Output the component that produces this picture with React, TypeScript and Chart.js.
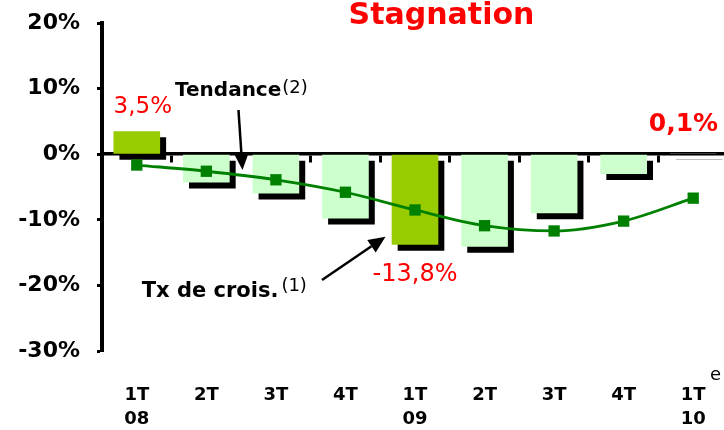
import React, { useEffect, useRef } from "react";
import { Chart, registerables } from "chart.js";

Chart.register(...registerables);

// ---- data ----
const categories: string[][] = [
  ["1T", "08"], ["2T"], ["3T"], ["4T"], ["1T", "09"], ["2T"], ["3T"], ["4T"], ["1T", "10"],
];
const growthRate = [3.5, -4.3, -6.0, -9.8, -13.8, -14.1, -9.0, -3.0, 0.1];
const trend = [-1.65, -2.6, -3.9, -5.8, -8.5, -10.9, -11.7, -10.2, -6.7];
const highlightedBars = [0, 4];
const yMin = -30;
const yMax = 20;
const yStep = 10;

const titleText = "Stagnation";
const valueLabels = [
  { text: "3,5%", at: [0.087, 7.24], font: "23px", color: "#FF0000" },
  { text: "-13,8%", at: [4.0, -18.42], font: "24px", color: "#FF0000" },
  { text: "0,1%", at: [7.86, 4.6], font: "bold 25px", color: "#FF0000" },
];

const FONT = '"DejaVu Sans"';
const OLIVE = "#99CC00";
const LIGHT = "#CCFFCC";
const GREEN = "#008000";

function arrow(ctx: CanvasRenderingContext2D, x1: number, y1: number, x2: number, y2: number, head: number, hw: number) {
  const ang = Math.atan2(y2 - y1, x2 - x1);
  const bx = x2 - head * Math.cos(ang);
  const by = y2 - head * Math.sin(ang);
  ctx.save();
  ctx.strokeStyle = "#000";
  ctx.fillStyle = "#000";
  ctx.lineWidth = 2.5;
  ctx.beginPath();
  ctx.moveTo(x1, y1);
  ctx.lineTo(bx, by);
  ctx.stroke();
  ctx.beginPath();
  ctx.moveTo(x2, y2);
  ctx.lineTo(bx + (hw / 2) * Math.sin(ang), by - (hw / 2) * Math.cos(ang));
  ctx.lineTo(bx - (hw / 2) * Math.sin(ang), by + (hw / 2) * Math.cos(ang));
  ctx.closePath();
  ctx.fill();
  ctx.restore();
}

const shadowPlugin = {
  id: "barShadow",
  beforeDatasetDraw(chart: any, args: any) {
    if (chart.data.datasets[args.index].type === "bar") {
      const ctx = chart.ctx;
      ctx.save();
      ctx.shadowColor = "#000";
      ctx.shadowOffsetX = 6;
      ctx.shadowOffsetY = 6;
      ctx.shadowBlur = 0;
    }
  },
  afterDatasetDraw(chart: any, args: any) {
    if (chart.data.datasets[args.index].type === "bar") {
      chart.ctx.restore();
    }
  },
};

const annotationPlugin = {
  id: "annotations",
  afterDraw(chart: any) {
    const ctx: CanvasRenderingContext2D = chart.ctx;
    const xs = chart.scales.x;
    const ys = chart.scales.y;
    const P = (i: number, v: number) => [xs.getPixelForValue(i), ys.getPixelForValue(v)];
    ctx.save();

    // title
    const [tx, ty] = P(4.381, 19.8);
    ctx.font = `bold 30px ${FONT}`;
    ctx.fillStyle = "#FF0000";
    ctx.textAlign = "center";
    ctx.textBaseline = "alphabetic";
    ctx.fillText(titleText, tx, ty);

    // value labels
    ctx.textBaseline = "middle";
    for (const l of valueLabels) {
      const [x, y] = P(l.at[0], l.at[1]);
      ctx.font = `${l.font} ${FONT}`;
      ctx.fillStyle = l.color;
      ctx.textAlign = "center";
      ctx.fillText(l.text, x, y);
    }

    // Tendance label + arrow
    ctx.fillStyle = "#000";
    ctx.textAlign = "left";
    let [ax, ay] = P(0.55, 9.63);
    ctx.font = `bold 20px ${FONT}`;
    ctx.fillText("Tendance", ax, ay);
    let w = ctx.measureText("Tendance").width;
    ctx.font = `18px ${FONT}`;
    ctx.fillText("(2)", ax + w + 1, ay - 3);
    let [s1x, s1y] = P(1.462, 6.74);
    let [e1x, e1y] = P(1.52, -2.41);
    arrow(ctx, s1x, s1y, e1x, e1y, 17, 15);

    // Tx de crois. label + arrow
    [ax, ay] = P(0.071, -20.96);
    ctx.font = `bold 21px ${FONT}`;
    ctx.fillText("Tx de crois.", ax, ay);
    w = ctx.measureText("Tx de crois.").width;
    ctx.font = `18px ${FONT}`;
    ctx.fillText("(1)", ax + w + 3, ay - 5);
    [s1x, s1y] = P(2.663, -19.18);
    [e1x, e1y] = P(3.576, -12.58);
    arrow(ctx, s1x, s1y, e1x, e1y, 17, 15);

    // superscript "e" on last category label
    const [ex, ey] = P(8.241, -34.4);
    ctx.font = `18px ${FONT}`;
    ctx.textBaseline = "alphabetic";
    ctx.fillText("e", ex, ey);

    ctx.restore();
  },
};

export default function App() {
  const ref = useRef<HTMLCanvasElement>(null);

  useEffect(() => {
    if (!ref.current) return;
    const chart = new Chart(ref.current, {
      type: "bar",
      data: {
        labels: categories,
        datasets: [
          {
            type: "line",
            label: "Tendance",
            data: trend,
            borderColor: GREEN,
            backgroundColor: GREEN,
            borderWidth: 2.8,
            cubicInterpolationMode: "monotone",
            pointStyle: "rect",
            pointRadius: 8,
            pointBackgroundColor: GREEN,
            pointBorderWidth: 0,
            order: 0,
          } as any,
          {
            type: "bar",
            label: "Tx de crois.",
            data: growthRate,
            backgroundColor: growthRate.map((_, i) => (highlightedBars.includes(i) ? OLIVE : LIGHT)),
            borderWidth: 0,
            categoryPercentage: 1,
            barPercentage: 0.671,
            order: 1,
          } as any,
        ],
      },
      options: {
        animation: false,
        responsive: false,
        events: [],
        layout: { autoPadding: false, padding: { top: 23, right: 0, bottom: 0, left: 0 } },
        plugins: {
          legend: { display: false },
          title: { display: false },
          tooltip: { enabled: false },
        },
        scales: {
          x: {
            type: "category",
            offset: true,
            grid: { display: false, drawTicks: false, offset: true },
            border: { display: false },
            ticks: {
              color: "#000",
              font: { family: FONT, size: 18, weight: "bold", lineHeight: 1.3 },
              padding: 33,
              maxRotation: 0,
              autoSkip: false,
            },
            afterFit: (s: any) => {
              s.height = 79;
              s.paddingLeft = 0;
              s.paddingRight = 0;
            },
          },
          x2: {
            type: "category",
            axis: "x",
            position: { y: 0 } as any,
            offset: true,
            z: 1,
            grid: {
              display: true,
              drawOnChartArea: false,
              drawTicks: true,
              tickLength: 7,
              tickWidth: 3,
              tickColor: "#000",
              offset: true,
            },
            border: { display: true, color: "#000", width: 3.5 },
            ticks: { display: false },
            afterFit: (s: any) => {
              s.height = 0;
              s.paddingLeft = 0;
              s.paddingRight = 0;
              s.paddingTop = 0;
              s.paddingBottom = 0;
            },
          } as any,
          y: {
            type: "linear",
            min: yMin,
            max: yMax,
            ticks: {
              stepSize: yStep,
              color: "#000",
              font: { family: FONT, size: 22, weight: "bold" },
              padding: 17,
              callback: (v: any) => `${v}%`,
            },
            grid: {
              display: true,
              drawOnChartArea: false,
              drawTicks: true,
              tickLength: 5,
              tickWidth: 3,
              tickColor: "#000",
            },
            border: { display: true, color: "#000", width: 4 },
            afterFit: (s: any) => {
              s.width = 102;
              s.paddingTop = 0;
              s.paddingBottom = 0;
            },
          },
        },
      },
      plugins: [shadowPlugin, annotationPlugin],
    } as any);
    return () => chart.destroy();
  }, []);

  return (
    <div style={{ position: "fixed", left: 0, top: 0, width: 724, height: 430, overflow: "hidden", background: "#fff" }}>
      <canvas ref={ref} width={728} height={430} style={{ display: "block" }} />
    </div>
  );
}
